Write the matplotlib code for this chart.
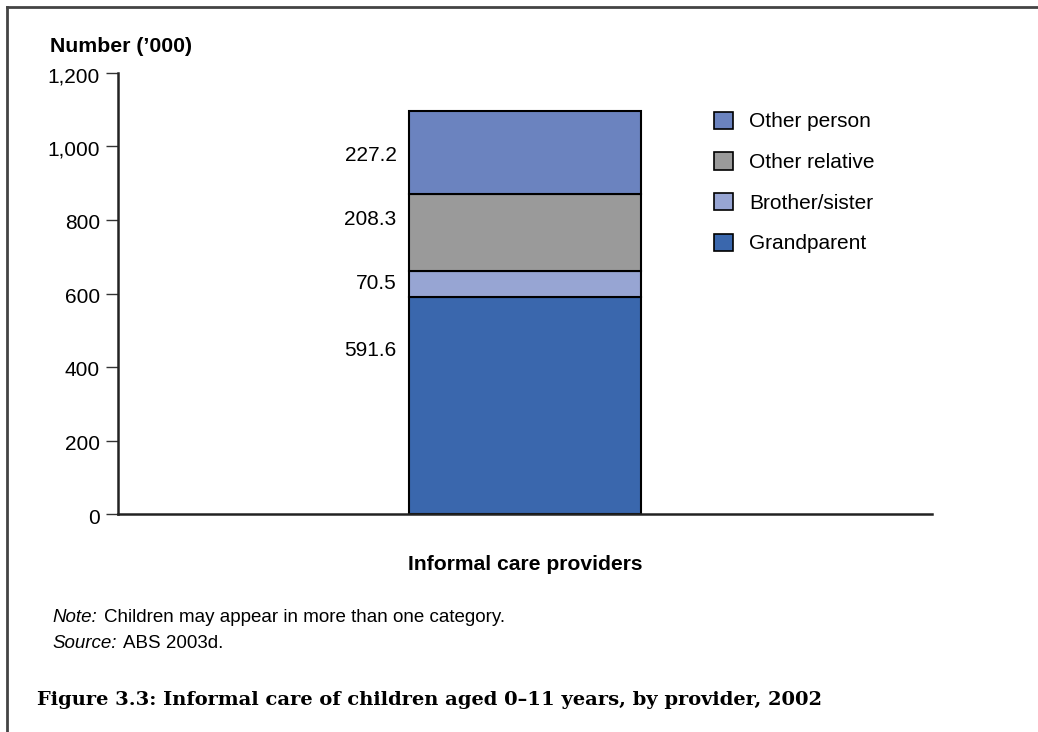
import matplotlib
matplotlib.use('Agg')
import matplotlib.pyplot as plt
import matplotlib.transforms as mtransforms
from matplotlib.lines import Line2D

# data (thousands of children)
providers = ['Grandparent', 'Brother/sister', 'Other relative', 'Other person']
values = [591.6, 70.5, 208.3, 227.2]
value_labels = ['591.6', '70.5', '208.3', '227.2']
colours = ['#3a67ad', '#97a5d3', '#9a9a9a', '#6b83bf']
yticks = [0, 200, 400, 600, 800, 1000, 1200]
ytick_labels = ['0', '200', '400', '600', '800', '1,000', '1,200']

plt.rcParams['font.family'] = ['Liberation Sans', 'DejaVu Sans']

fig = plt.figure(figsize=(10.38, 7.32), dpi=100)
ax = fig.add_axes([118/1038, 1 - 514/732, (932-118)/1038, (514-73)/732])

bottom = 0
for name, v, c in zip(providers, values, colours):
    ax.bar(0.5, v, width=0.284, bottom=bottom, color=c, edgecolor='black', linewidth=1.5, label=name)
    bottom += v

# value labels sit left of the bar, nudged a bit from segment centres
label_nudge = [150, 0, 35, -8]
bottom = 0
for v, lab, nd in zip(values, value_labels, label_nudge):
    ax.text(0.342, bottom + v / 2 + nd, lab, ha='right', va='center', fontsize=15)
    bottom += v

ax.set_xlim(0, 1)
ax.set_ylim(0, 1200)
ax.set_yticks(yticks)
ax.set_yticklabels(ytick_labels, fontsize=15, va='center')
ax.set_xticks([])
for s in ['top', 'right']:
    ax.spines[s].set_visible(False)
for s in ['left', 'bottom']:
    ax.spines[s].set_linewidth(1.8)
    ax.spines[s].set_color('#222222')
ax.tick_params(axis='y', length=9, width=1, color='#333333', pad=4)
# tick labels sit a little below their ticks in the original
shift = mtransforms.ScaledTranslation(0, -4/100, fig.dpi_scale_trans)
for t in ax.get_yticklabels():
    t.set_transform(t.get_transform() + shift)

ax.text(0.5, -0.115, 'Informal care providers', transform=ax.transAxes,
        ha='center', va='center', fontsize=15.2, fontweight='bold')
fig.text(50/1038, 1 - 47/732, "Number (\u2019000)", fontsize=15.3, fontweight='bold',
         ha='left', va='center')

handles, labels = ax.get_legend_handles_labels()
leg = ax.legend(handles[::-1], labels[::-1], loc='upper left', bbox_to_anchor=(0.709, 0.955),
                frameon=False, fontsize=15, handlelength=0.9, handleheight=0.9,
                handletextpad=0.8, labelspacing=1.0)
for h in leg.legend_handles:
    h.set_linewidth(1.2)

note = fig.text(52/1038, 1 - 617/732, 'Note:', fontsize=13.5, style='italic', va='center')
ax.annotate('Children may appear in more than one category.', xy=(1, 0.5), xycoords=note,
            xytext=(5, 0), textcoords='offset points', fontsize=13.5, va='center')
src = fig.text(52/1038, 1 - 643/732, 'Source:', fontsize=13.5, style='italic', va='center')
ax.annotate('ABS 2003d.', xy=(1, 0.5), xycoords=src,
            xytext=(5, 0), textcoords='offset points', fontsize=13.5, va='center')

fig.text(37/1038, 1 - 700/732, 'Figure 3.3: Informal care of children aged 0\u201311 years, by provider, 2002',
         fontsize=14, fontweight='bold', family=['DejaVu Serif'], va='center')

# frame lines at top and left of the page
fig.add_artist(Line2D([7/1038, 1], [1 - 7/732, 1 - 7/732], transform=fig.transFigure, color='#444444', lw=2))
fig.add_artist(Line2D([7/1038, 7/1038], [0, 1 - 7/732], transform=fig.transFigure, color='#444444', lw=2))

fig.savefig('out.png', dpi=100)
